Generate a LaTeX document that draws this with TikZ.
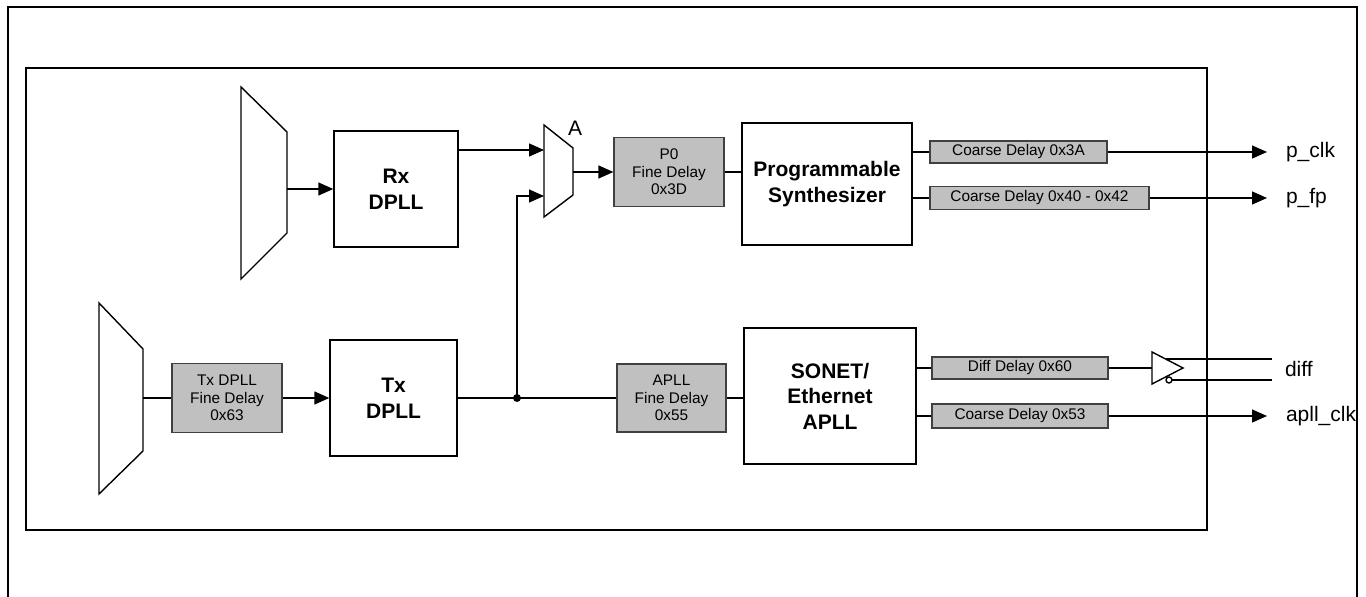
\documentclass[tikz,border=0pt]{standalone}
\usepackage{fontspec}
\setmainfont{Liberation Sans}
\usetikzlibrary{arrows.meta,calc,positioning}
\definecolor{dlygray}{RGB}{192,192,192}

\begin{document}
\begin{tikzpicture}
  [x=0.5pt,y=-0.5pt,
   blk/.style={draw,line width=0.7pt,align=center,inner sep=0pt,font=\fontsize{10.5}{12.8}\selectfont\bfseries},
   dly/.style={draw=black!75,fill=dlygray,line width=0.6pt,align=center,inner sep=0pt,font=\fontsize{7.7}{8.8}\selectfont},
   outlbl/.style={anchor=west,inner xsep=9.5pt,inner ysep=0pt,outer sep=0pt,font=\fontsize{10.5}{13}\selectfont},
   sig/.style={line width=0.7pt,-{Triangle[length=7.5pt,width=6.5pt]}},
   wire/.style={line width=0.7pt}]
  \useasboundingbox (0,0) rectangle (1366,597);

  % frames
  \draw[line width=1.1pt] (8,597) -- (8,7) -- (1357,7) -- (1357,597);
  \draw[line width=1.1pt] (26,68) rectangle (1207,530);

  % selectors
  \draw[wire] (241,87) -- (287,132) -- (287,233) -- (241,279) -- cycle;
  \coordinate (rxsel) at (287,189);
  \draw[wire] (99,303) -- (143,349) -- (143,451) -- (99,494) -- cycle;
  \coordinate (txsel) at (143,398);
  \draw[wire] (544,125) -- (573,148) -- (573,195) -- (544,217) -- cycle;
  \coordinate (amuxin1) at (544,150);
  \coordinate (amuxin2) at (544,196);
  \coordinate (amuxout) at (573,172);
  \node[font=\fontsize{10.5}{13}\selectfont] (lbla) at (575,128) {A};

  % blocks
  \node[blk,minimum width=62pt,minimum height=58pt] (rx) at (396,189) {Rx\\DPLL};
  \node[blk,minimum width=63.5pt,minimum height=58pt] (tx) at (393.5,398) {Tx\\DPLL};
  \node[blk,minimum width=85pt,minimum height=61pt] (synth) at (827,184) {Programmable\\Synthesizer};
  \node[blk,minimum width=86pt,minimum height=68pt] (apll) at (830,396) {SONET/\\Ethernet\\APLL};

  % delays
  \node[dly,minimum width=55pt,minimum height=34.5pt] (p0) at (669,172) {P0\\Fine Delay\\0x3D};
  \node[dly,minimum width=55pt,minimum height=34.5pt] (txfine) at (227,398) {Tx DPLL\\Fine Delay\\0x63};
  \node[dly,minimum width=54.5pt,minimum height=34pt] (aplfine) at (671.5,398) {APLL\\Fine Delay\\0x55};
  \node[dly,minimum width=88.5pt,minimum height=11pt] (crs3a) at (1018.5,152) {Coarse Delay 0x3A};
  \node[dly,minimum width=109.5pt,minimum height=11.5pt] (crs40) at (1039.5,198) {Coarse Delay 0x40 - 0x42};
  \node[dly,minimum width=88pt,minimum height=11pt] (diffdly) at (1020,368) {Diff Delay 0x60};
  \node[dly,minimum width=88pt,minimum height=12pt] (crs53) at (1020,416) {Coarse Delay 0x53};

  % outputs
  \node[outlbl] (pclk) at (1267,152) {p\_clk};
  \node[outlbl] (pfp) at (1267,198) {p\_fp};
  \node[outlbl,inner xsep=6.5pt] (diff) at (1272,369) {diff};
  \node[outlbl] (apllclk) at (1267,416) {apll\_clk};

  % diff buffer
  \draw[wire] (1152,352) -- (1183,368) -- (1152,384) -- cycle;
  \draw[wire] (1169,380) circle (1.5pt);
  \coordinate (bufin) at (1152,368);
  \coordinate (bufp) at (1166,359);
  \coordinate (bufn) at (1172,380);

  \draw[sig] (rxsel) -- (rxsel-|rx.west);
  \draw[sig] (rx.east|-amuxin1) -- (amuxin1);
  \draw[sig] (amuxout) -- (amuxout-|p0.west);
  \draw[wire] (p0.east) -- (p0.east-|synth.west);
  \draw[wire] (synth.east|-crs3a) -- (crs3a);
  \draw[wire] (synth.east|-crs40) -- (crs40);
  \draw[sig] (crs3a.east) -- (crs3a.east-|pclk.west);
  \draw[sig] (crs40.east) -- (crs40.east-|pfp.west);

  \draw[wire] (txsel) -- (txsel-|txfine.west);
  \draw[sig] (txfine.east) -- (txfine.east-|tx.west);
  \draw[wire] (tx.east) -- (aplfine.west);
  \coordinate (split) at (517,398);
  \fill (split) circle (2pt);
  \draw[sig] (split) |- (amuxin2);
  \draw[wire] (aplfine.east) -- (aplfine.east-|apll.west);
  \draw[wire] (apll.east|-diffdly) -- (diffdly);
  \draw[wire] (apll.east|-crs53) -- (crs53);
  \draw[wire] (diffdly.east) -- (bufin);
  \draw[wire] (bufp) -- (bufp-|diff.west);
  \draw[wire] (bufn) -- (bufn-|diff.west);
  \draw[sig] (crs53.east) -- (crs53.east-|apllclk.west);
\end{tikzpicture}
\end{document}
